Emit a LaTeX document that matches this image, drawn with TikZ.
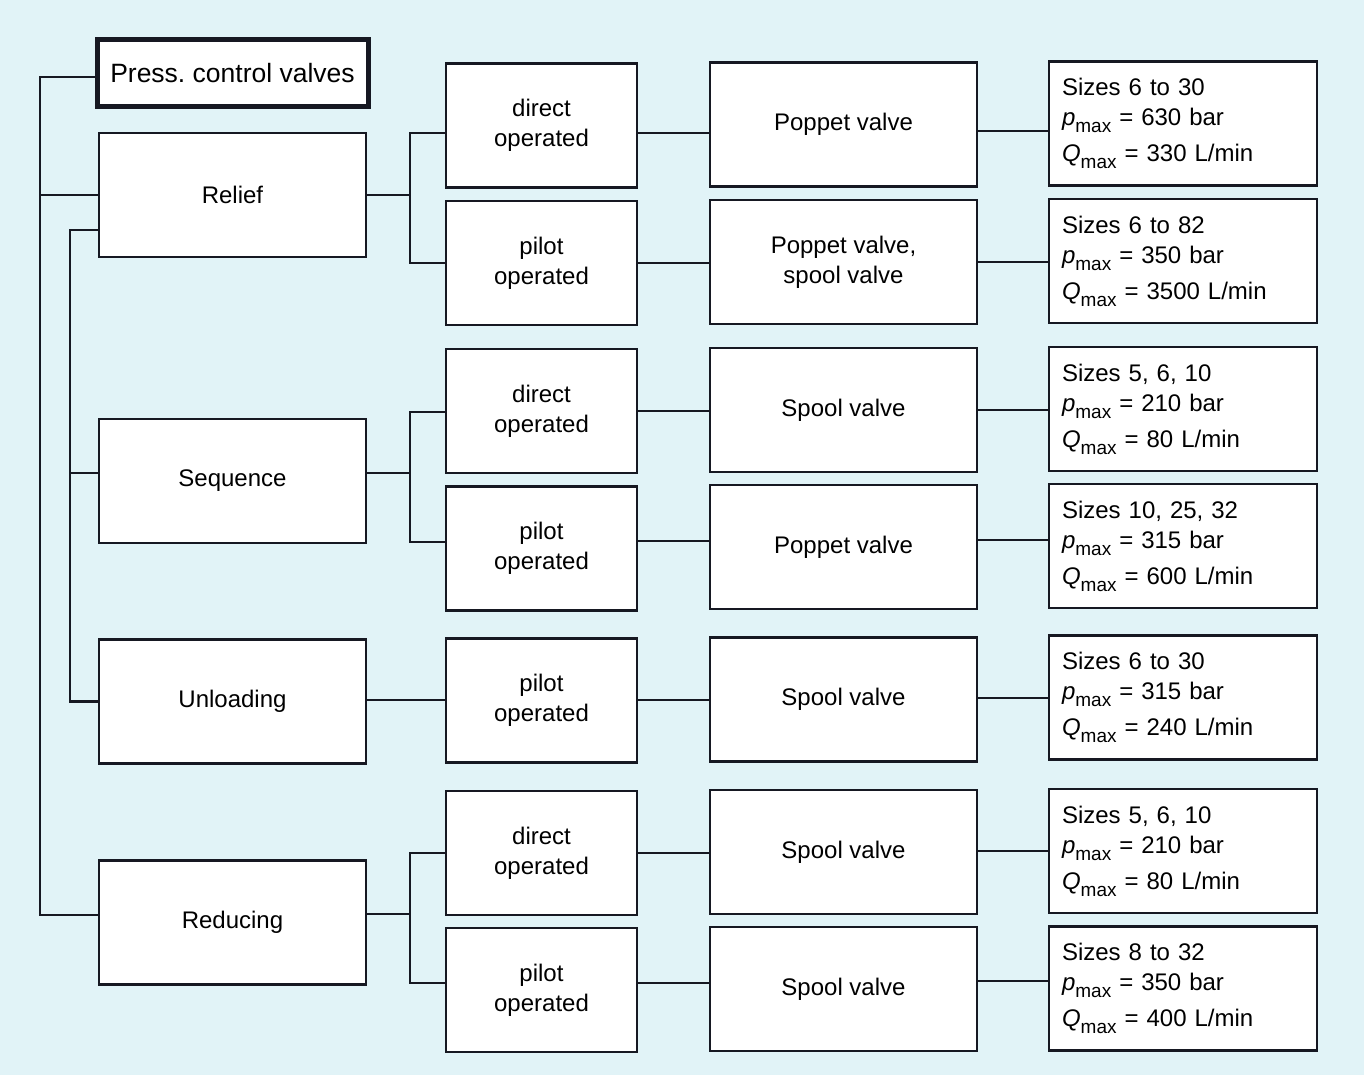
\documentclass[tikz,border=0pt]{standalone}
\usepackage{fontspec}
\setmainfont{Liberation Sans}
\definecolor{bg}{RGB}{225,243,247}
\definecolor{ink}{RGB}{22,24,34}
\newcommand\pmx{\textit{p}\raisebox{-0.3em}{\fontsize{19}{19}\selectfont max}}
\newcommand\qmx{\textit{Q}\raisebox{-0.3em}{\fontsize{19}{19}\selectfont max}}
\begin{document}
\begin{tikzpicture}[x=1pt,y=-1pt,
  box/.style={draw=ink, line width=2.6pt, fill=white, inner sep=0pt, outer sep=0pt,
              font=\fontsize{24}{30}\selectfont, align=center},
  cA/.style={box, minimum width=267pt, minimum height=124pt},
  cB/.style={box, minimum width=191pt, minimum height=124pt},
  cC/.style={box, minimum width=267pt, minimum height=124pt},
  cD/.style={box, minimum width=268pt, minimum height=124pt, text width=242pt, align=left},
  wire/.style={draw=ink, line width=1.5pt},
  stub/.style={draw=ink, line width=2.3pt}]
\useasboundingbox (0,0) rectangle (1364,1075);
\fill[bg] (0,0) rectangle (1364,1075);

% column 1
\node[box, line width=5pt, minimum width=271pt, minimum height=67pt,
      font=\fontsize{26.5}{30}\selectfont] (title) at (232.5,73.5) {Press.\ control valves};
\node[cA] (relief) at (232.5,195) {Relief};
\node[cA] (sequence) at (232.5,481) {Sequence};
\node[cA] (unloading) at (232.5,701.5) {Unloading};
\node[cA] (reducing) at (232.5,922.5) {Reducing};

% column 2
\node[cB] (d1) at (541.5,125.5) {direct\\operated};
\node[cB] (p1) at (541.5,263) {pilot\\operated};
\node[cB] (d2) at (541.5,411) {direct\\operated};
\node[cB] (p2) at (541.5,548.5) {pilot\\operated};
\node[cB] (p3) at (541.5,700.5) {pilot\\operated};
\node[cB] (d4) at (541.5,853) {direct\\operated};
\node[cB] (p4) at (541.5,990) {pilot\\operated};

% column 3
\node[cC] (v1) at (843.5,124.5) {Poppet valve};
\node[cC] (v2) at (843.5,262) {Poppet valve,\\spool valve};
\node[cC] (v3) at (843.5,410) {Spool valve};
\node[cC] (v4) at (843.5,547) {Poppet valve};
\node[cC] (v5) at (843.5,699.5) {Spool valve};
\node[cC] (v6) at (843.5,852) {Spool valve};
\node[cC] (v7) at (843.5,989) {Spool valve};

% column 4
\node[cD] (s1) at (1183,123.5) {Sizes 6 to 30\\\pmx{} = 630 bar\\[6pt]\qmx{} = 330 L/min};
\node[cD] (s2) at (1183,261) {Sizes 6 to 82\\\pmx{} = 350 bar\\[6pt]\qmx{} = 3500 L/min};
\node[cD] (s3) at (1183,409) {Sizes 5, 6, 10\\\pmx{} = 210 bar\\[6pt]\qmx{} = 80 L/min};
\node[cD] (s4) at (1183,546) {Sizes 10, 25, 32\\\pmx{} = 315 bar\\[6pt]\qmx{} = 600 L/min};
\node[cD] (s5) at (1183,697.5) {Sizes 6 to 30\\\pmx{} = 315 bar\\[6pt]\qmx{} = 240 L/min};
\node[cD] (s6) at (1183,851) {Sizes 5, 6, 10\\\pmx{} = 210 bar\\[6pt]\qmx{} = 80 L/min};
\node[cD] (s7) at (1183,988.5) {Sizes 8 to 32\\\pmx{} = 350 bar\\[6pt]\qmx{} = 400 L/min};

% junction coordinates
\coordinate (o1) at (40,77);
\coordinate (o2) at (40,915);
\coordinate (i1) at (70,230);
\coordinate (i2) at (70,701.5);
\coordinate (jr) at (410,195);
\coordinate (js) at (410,473);
\coordinate (jd) at (410,914);

% left tree
\draw[stub] (title.west |- o1) -- (o1) -- (o2) -- (reducing.west |- o2);
\draw[stub] (40,195) -- (relief.west);
\draw[stub] (relief.west |- i1) -- (i1) -- (i2) -- (unloading.west);
\draw[stub] (70,473) -- (sequence.west |- 0,473);

% column 1 -> column 2
\draw[stub] (relief.east) -- (jr);
\draw[wire] (d1.west |- 0,133) -- (410,133) -- (410,263) -- (p1.west);
\draw[stub] (sequence.east |- js) -- (js);
\draw[wire] (d2.west |- 0,412) -- (410,412) -- (410,542) -- (p2.west |- 0,542);
\draw[stub] (unloading.east |- 0,700) -- (p3.west |- 0,700);
\draw[stub] (reducing.east |- jd) -- (jd);
\draw[wire] (d4.west) -- (410,853) -- (410,983) -- (p4.west |- 0,983);

% column 2 -> column 3
\draw[wire] (d1.east |- 0,133) -- (v1.west |- 0,133);
\draw[wire] (p1.east |- 0,263) -- (v2.west |- 0,263);
\draw[wire] (d2.east |- 0,411) -- (v3.west |- 0,411);
\draw[wire] (p2.east |- 0,541) -- (v4.west |- 0,541);
\draw[wire] (p3.east |- 0,700) -- (v5.west |- 0,700);
\draw[wire] (d4.east |- 0,853) -- (v6.west |- 0,853);
\draw[wire] (p4.east |- 0,983) -- (v7.west |- 0,983);

% column 3 -> column 4
\draw[wire] (v1.east |- 0,131) -- (s1.west |- 0,131);
\draw[wire] (v2.east |- 0,262) -- (s2.west |- 0,262);
\draw[wire] (v3.east |- 0,410) -- (s3.west |- 0,410);
\draw[wire] (v4.east |- 0,540) -- (s4.west |- 0,540);
\draw[wire] (v5.east |- 0,698) -- (s5.west |- 0,698);
\draw[wire] (v6.east |- 0,851) -- (s6.west |- 0,851);
\draw[wire] (v7.east |- 0,981) -- (s7.west |- 0,981);
\end{tikzpicture}
\end{document}
